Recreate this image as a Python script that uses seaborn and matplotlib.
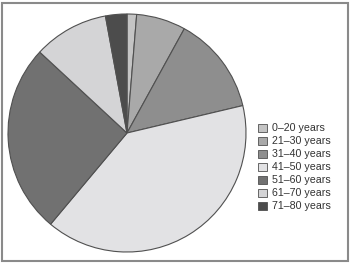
import matplotlib
matplotlib.use("Agg")
import matplotlib.pyplot as plt
import matplotlib.patches as mpatches
import seaborn as sns

sns.set_style("white")
plt.rcParams['font.family'] = ['Liberation Sans', 'DejaVu Sans']

categories = ["0–20 years", "21–30 years", "31–40 years", "41–50 years",
              "51–60 years", "61–70 years", "71–80 years"]
shares = [1.3, 6.7, 13.3, 39.8, 25.8, 10.2, 2.9]
colors = ["#c4c4c4", "#a9a9a9", "#8e8e8e", "#e2e2e4", "#717171", "#d4d4d6", "#4c4c4c"]

fig = plt.figure(figsize=(3.5, 2.64), dpi=100)
ax = fig.add_axes([0, 0, 1, 1])
ax.axis("off")

wedges, _ = ax.pie(shares, colors=colors, startangle=90, counterclock=False,
                   center=(127, 131), radius=119,
                   wedgeprops=dict(edgecolor="#505050", linewidth=0.8))
ax.set_xlim(0, 350)
ax.set_ylim(0, 264)
ax.set_aspect("equal")

handles = [mpatches.Patch(facecolor=c, edgecolor="#505050", linewidth=0.6) for c in colors]
leg = fig.legend(handles, categories, loc="upper left",
                 bbox_to_anchor=(251 / 350, 1 - 116 / 264),
                 frameon=False, fontsize=7.7, handlelength=0.75, handleheight=0.75,
                 handletextpad=0.55, labelspacing=0.28, borderpad=0.2,
                 labelcolor="#333333")

frame = mpatches.Rectangle((1.5 / 350, 3 / 264), 346 / 350, 258 / 264,
                           transform=fig.transFigure, fill=False,
                           edgecolor="#8a8a8a", linewidth=1.5)
fig.patches.append(frame)

fig.savefig("out.png", dpi=100)
